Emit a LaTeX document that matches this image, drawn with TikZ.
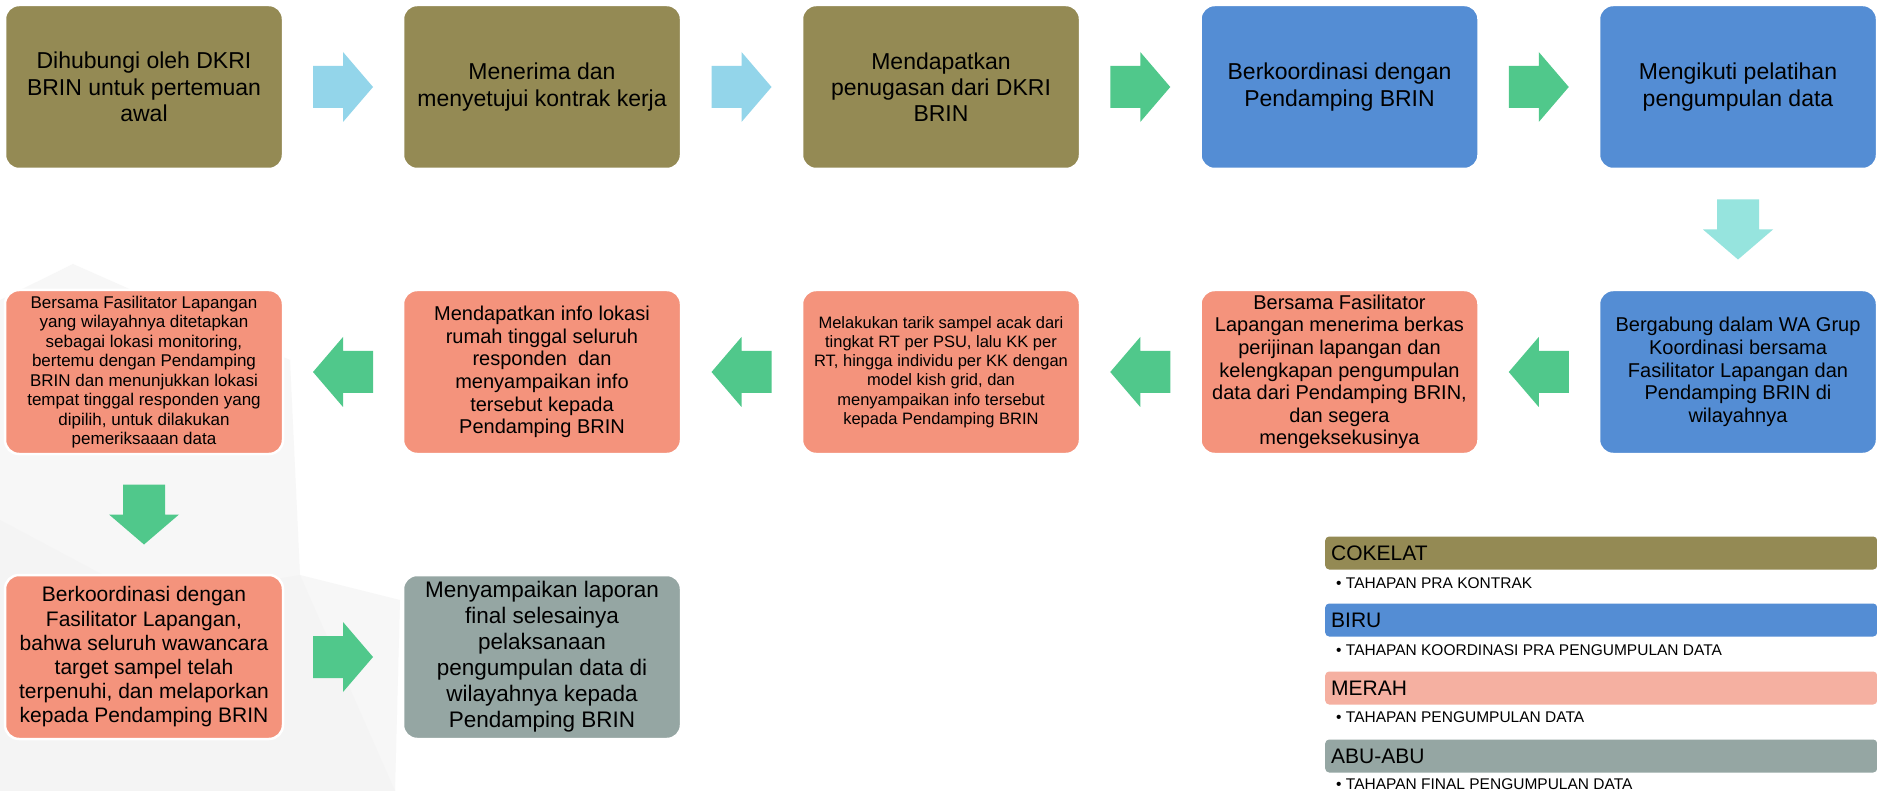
\documentclass[tikz,border=0pt]{standalone}
\usepackage{fontspec}
\setmainfont{Liberation Sans}
\usetikzlibrary{calc}
\definecolor{cOlive}{HTML}{948A54}
\definecolor{cBlue}{HTML}{548DD4}
\definecolor{cSalmon}{HTML}{F4937C}
\definecolor{cGray}{HTML}{95A6A3}
\definecolor{cLegRed}{HTML}{F5B0A1}
\definecolor{cLtBlue}{HTML}{93D5EA}
\definecolor{cCyan}{HTML}{96E4DE}
\definecolor{cGreen}{HTML}{50C88B}
\definecolor{cWm}{HTML}{F7F7F7}
\definecolor{cWmb}{HTML}{F4F4F4}
\tikzset{
  stepbox/.style={rounded corners=14pt, draw=white, line width=2.5pt,
    minimum width=278pt, minimum height=164pt, inner sep=0pt, align=center, text=black},
  fbig/.style={font=\fontsize{23}{26.3}\selectfont},
  fmid/.style={font=\fontsize{20}{22.6}\selectfont},
  fsmall/.style={font=\fontsize{16.5}{19.2}\selectfont},
  fxs/.style={font=\fontsize{17}{19.5}\selectfont},
  blockarrow/.pic={\fill[pic actions] (-30,-21) -- (0,-21) -- (0,-35) -- (30,0) -- (0,35) -- (0,21) -- (-30,21) -- cycle;},
  legbar/.style={rounded corners=4pt, minimum width=552pt, minimum height=33pt, inner sep=0pt, anchor=west},
  legtxt/.style={anchor=west, inner sep=0pt, font=\fontsize{21}{24}\selectfont},
  legitem/.style={anchor=west, inner sep=0pt, font=\fontsize{15.5}{18}\selectfont},
}
\begin{document}
\begin{tikzpicture}[x=1pt,y=-1pt]
\useasboundingbox (0,0) rectangle (1877,791);
\fill[white] (0,0) rectangle (1877,791);
% faint background watermark
\fill[cWm] (0,300) -- (73,264) -- (290,360) -- (300,575) -- (400,600) -- (395,791) -- (0,791) -- cycle;
\fill[cWmb] (0,520) -- (150,600) -- (300,575) -- (395,791) -- (0,791) -- cycle;
% row 1
\node[stepbox, fill=cOlive, fbig] (b1) at (144,87) {Dihubungi oleh DKRI\\BRIN untuk pertemuan\\awal};
\node[stepbox, fill=cOlive, fbig] (b2) at (542,87) {Menerima dan\\menyetujui kontrak kerja};
\node[stepbox, fill=cOlive, fbig] (b3) at (941,87) {Mendapatkan\\penugasan dari DKRI\\BRIN};
\node[stepbox, fill=cBlue, fbig] (b4) at (1339.5,87) {Berkoordinasi dengan\\Pendamping BRIN};
\node[stepbox, fill=cBlue, fbig] (b5) at (1738,87) {Mengikuti pelatihan\\pengumpulan data};
% row 2
\node[stepbox, fill=cBlue, fmid] (b6) at (1738,372) {Bergabung dalam WA Grup\\Koordinasi bersama\\Fasilitator Lapangan dan\\Pendamping BRIN di\\wilayahnya};
\node[stepbox, fill=cSalmon, fmid] (b7) at (1339.5,372) {Bersama Fasilitator\\Lapangan menerima berkas\\perijinan lapangan dan\\kelengkapan pengumpulan\\data dari Pendamping BRIN,\\dan segera\\mengeksekusinya};
\node[stepbox, fill=cSalmon, fsmall] (b8) at (941,372) {Melakukan tarik sampel acak dari\\tingkat RT per PSU, lalu KK per\\RT, hingga individu per KK dengan\\model kish grid, dan\\menyampaikan info tersebut\\kepada Pendamping BRIN};
\node[stepbox, fill=cSalmon, fmid] (b9) at (542,372) {Mendapatkan info lokasi\\rumah tinggal seluruh\\responden\ \ dan\\menyampaikan info\\tersebut kepada\\Pendamping BRIN};
\node[stepbox, fill=cSalmon, fxs] (b10) at (144,372) {Bersama Fasilitator Lapangan\\yang wilayahnya ditetapkan\\sebagai lokasi monitoring,\\bertemu dengan Pendamping\\BRIN dan menunjukkan lokasi\\tempat tinggal responden yang\\dipilih, untuk dilakukan\\pemeriksaaan data};
% row 3
\node[stepbox, fill=cSalmon, font=\fontsize{21}{24.2}\selectfont] (b11) at (144,657) {Berkoordinasi dengan\\Fasilitator Lapangan,\\bahwa seluruh wawancara\\target sampel telah\\terpenuhi, dan melaporkan\\kepada Pendamping BRIN};
\node[stepbox, fill=cGray, font=\fontsize{22.5}{26}\selectfont] (b12) at (542,657) {Menyampaikan laporan\\final selesainya\\pelaksanaan\\pengumpulan data di\\wilayahnya kepada\\Pendamping BRIN};
% arrows
\path ($(b1.east)!0.5!(b2.west)$) pic[fill=cLtBlue] {blockarrow};
\path ($(b2.east)!0.5!(b3.west)$) pic[fill=cLtBlue] {blockarrow};
\path ($(b3.east)!0.5!(b4.west)$) pic[fill=cGreen] {blockarrow};
\path ($(b4.east)!0.5!(b5.west)$) pic[fill=cGreen] {blockarrow};
\path ($(b5.south)!0.5!(b6.north)$) pic[fill=cCyan, rotate=-90] {blockarrow};
\path ($(b6.west)!0.5!(b7.east)$) pic[fill=cGreen, rotate=180] {blockarrow};
\path ($(b7.west)!0.5!(b8.east)$) pic[fill=cGreen, rotate=180] {blockarrow};
\path ($(b8.west)!0.5!(b9.east)$) pic[fill=cGreen, rotate=180] {blockarrow};
\path ($(b9.west)!0.5!(b10.east)$) pic[fill=cGreen, rotate=180] {blockarrow};
\path ($(b10.south)!0.5!(b11.north)$) pic[fill=cGreen, rotate=-90] {blockarrow};
\path ($(b11.east)!0.5!(b12.west)$) pic[fill=cGreen] {blockarrow};
% legend
\node[legbar, fill=cOlive] (l1) at (1325,553) {};
\node[legtxt] (l1t) at ([xshift=6pt]l1.west) {COKELAT};
\node[legitem] (l1i) at (1336,583) {• TAHAPAN PRA KONTRAK};
\node[legbar, fill=cBlue] (l2) at (1325,620) {};
\node[legtxt] (l2t) at ([xshift=6pt]l2.west) {BIRU};
\node[legitem] (l2i) at (1336,650) {• TAHAPAN KOORDINASI PRA PENGUMPULAN DATA};
\node[legbar, fill=cLegRed] (l3) at (1325,688) {};
\node[legtxt] (l3t) at ([xshift=6pt]l3.west) {MERAH};
\node[legitem] (l3i) at (1336,717) {• TAHAPAN PENGUMPULAN DATA};
\node[legbar, fill=cGray] (l4) at (1325,756) {};
\node[legtxt] (l4t) at ([xshift=6pt]l4.west) {ABU-ABU};
\node[legitem] (l4i) at (1336,784) {• TAHAPAN FINAL PENGUMPULAN DATA};
\end{tikzpicture}
\end{document}
